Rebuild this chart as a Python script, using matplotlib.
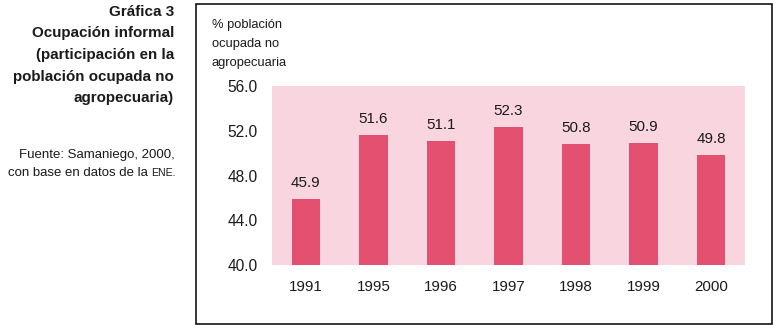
import matplotlib
matplotlib.use("Agg")
import matplotlib.pyplot as plt
from matplotlib.patches import Rectangle

plt.rcParams['font.family'] = ['Liberation Sans', 'DejaVu Sans']

years = ["1991", "1995", "1996", "1997", "1998", "1999", "2000"]
values = [45.9, 51.6, 51.1, 52.3, 50.8, 50.9, 49.8]
yticks = [40.0, 44.0, 48.0, 52.0, 56.0]

W, H = 780, 335
fig = plt.figure(figsize=(W / 100, H / 100), dpi=100)

def fx(px):
    return px / W

def fy(py):
    return 1 - py / H

# outer box
fig.patches.append(Rectangle((fx(196), fy(324)), (772 - 196) / W, (324 - 4) / H,
                             transform=fig.transFigure, fill=False,
                             edgecolor='black', linewidth=1.1))

ax = fig.add_axes([fx(272), fy(265), (745 - 272) / W, (265 - 86) / H])
ax.set_facecolor('#F9D6DF')
x = range(len(years))
ax.bar(x, values, width=0.42, color='#E4506F', zorder=2)
ax.set_xlim(-0.5, len(years) - 0.5)
ax.set_ylim(40, 56)
ax.set_yticks(yticks)
ax.set_yticklabels([f"{v:.1f}" for v in yticks], fontsize=11.2)
ax.set_xticks(list(x))
ax.set_xticklabels(years, fontsize=10.9)
ax.tick_params(axis='y', length=0, pad=10.5, colors='#1a1a1a')
ax.tick_params(axis='x', length=0, pad=11, colors='#1a1a1a')
for s in ax.spines.values():
    s.set_visible(False)

for xi, v in zip(x, values):
    ax.annotate(f"{v:.1f}", (xi, v), xytext=(0, 11.5), textcoords='offset points',
                ha='center', va='center', fontsize=10.9, color='#1a1a1a')

# y-axis title
ax_title = ["% población", "ocupada no", "agropecuaria"]
for i, line in enumerate(ax_title):
    fig.text(fx(212), fy(25 + i * 19), line, ha='left', va='center', fontsize=9.3, color='#1a1a1a')

# left title
title_lines = ["Gráfica 3", "Ocupación informal", "(participación en la",
               "población ocupada no", "agropecuaria)"]
for i, line in enumerate(title_lines):
    fig.text(fx(174), fy(12 + i * 21.5), line, ha='right', va='center',
             fontsize=10.9, fontweight='bold', color='#1a1a1a')

fig.text(fx(175), fy(155), "Fuente: Samaniego, 2000,", ha='right', va='center',
         fontsize=9.5, color='#1a1a1a')
t_ene = fig.text(fx(176), fy(173), "ENE.", ha='right', va='center', fontsize=7.6, color='#1a1a1a')
fig.canvas.draw()
bb = t_ene.get_window_extent()
fig.text(bb.x0 / W, fy(173), "con base en datos de la ", ha='right', va='center',
         fontsize=9.5, color='#1a1a1a')

fig.savefig("out.png", dpi=100)
